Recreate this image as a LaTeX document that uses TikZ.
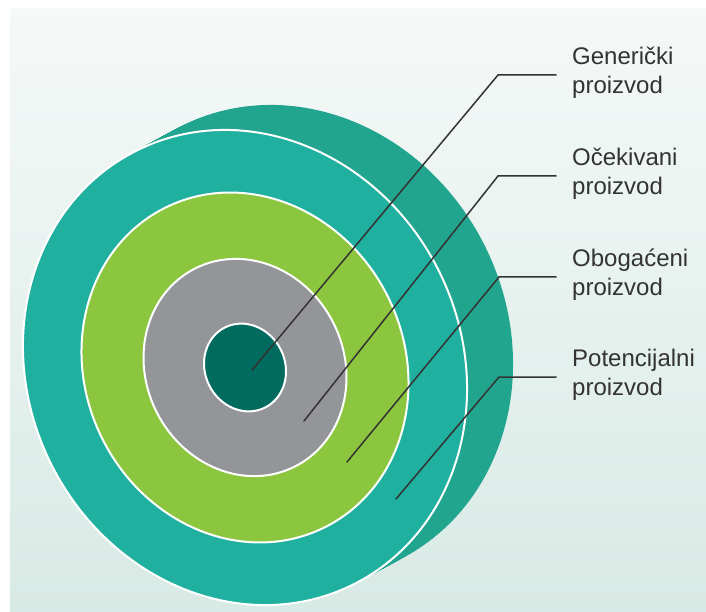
\documentclass[tikz,border=0pt]{standalone}
\usepackage{fontspec}
\setmainfont{Liberation Sans}
\definecolor{bgtop}{HTML}{F5F9F8}
\definecolor{bgbot}{HTML}{D8EAE5}
\definecolor{backteal}{HTML}{21A58F}
\definecolor{frontteal}{HTML}{1FB0A0}
\definecolor{leafgreen}{HTML}{8CC63F}
\definecolor{coregray}{HTML}{939598}
\definecolor{coredark}{HTML}{006B5E}
\definecolor{inkgray}{HTML}{333333}
\begin{document}
\begin{tikzpicture}[x=1pt,y=1pt,
  ring/.style={draw=white, line width=2pt},
  leader/.style={draw=inkgray, line width=1.5pt, line cap=round},
  lab/.style={anchor=base west, inner sep=0pt, align=left, text=inkgray,
    font=\fontsize{24}{29}\selectfont}]
\useasboundingbox (0,0) rectangle (706,611);
\shade[top color=bgtop, bottom color=bgbot] (10,0) rectangle (706,602);
% extruded back of the disc
\foreach \t in {0,0.025,...,1.001}{
  \fill[backteal, shift={({245+46*\t},{243.5+25*\t})}, rotate=26.6]
    (0,0) ellipse[x radius=216.6, y radius=242.5];
}
% front face rings
\begin{scope}[shift={(245,243.5)}, rotate=26.6]
  \filldraw[ring, fill=frontteal] (0,0) ellipse[x radius=216.6, y radius=242.5];
  \filldraw[ring, fill=leafgreen] (0,0) ellipse[x radius=159.5, y radius=178.6];
  \filldraw[ring, fill=coregray] (0,0) ellipse[x radius=99, y radius=110.9];
  \filldraw[ring, fill=coredark] (0,0) ellipse[x radius=40, y radius=44.8];
\end{scope}
% labels (anchor is the baseline of the last line)
\node[lab] (l1) at (572,517) {Generički\\proizvod};
\node[lab] (l2) at (572,416) {Očekivani\\proizvod};
\node[lab] (l3) at (572,316) {Obogaćeni\\proizvod};
\node[lab] (l4) at (572,216) {Potencijalni\\proizvod};
% leader lines
\coordinate (s1) at (252,241); \coordinate (e1) at (498,536); \coordinate (h1) at (556,536);
\coordinate (s2) at (304,190); \coordinate (e2) at (498,435); \coordinate (h2) at (556,435);
\coordinate (s3) at (347,149); \coordinate (e3) at (499,334); \coordinate (h3) at (556,334);
\coordinate (s4) at (396,112); \coordinate (e4) at (499,234); \coordinate (h4) at (556,234);
\draw[leader] (s1) -- (e1) -- (h1);
\draw[leader] (s2) -- (e2) -- (h2);
\draw[leader] (s3) -- (e3) -- (h3);
\draw[leader] (s4) -- (e4) -- (h4);
\end{tikzpicture}
\end{document}
